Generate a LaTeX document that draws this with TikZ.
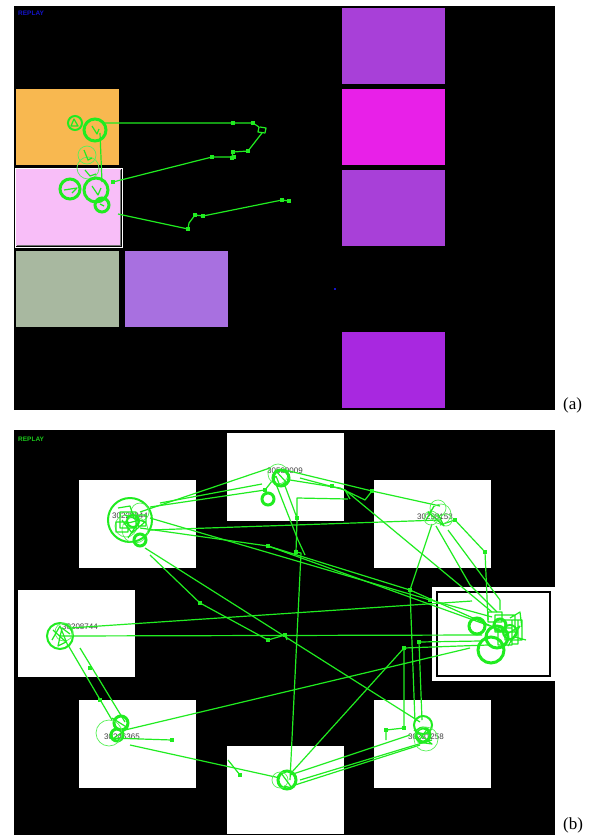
\documentclass[tikz,border=0pt]{standalone}
\usepackage{fontspec}
\setmainfont{Liberation Serif}
\newfontfamily\tagfont{Liberation Sans}
\definecolor{gz}{RGB}{32,236,32}
\definecolor{tileorange}{RGB}{248,184,80}
\definecolor{tilepink}{RGB}{248,190,248}
\definecolor{tilesage}{RGB}{168,184,160}
\definecolor{tilelilac}{RGB}{168,112,224}
\definecolor{tilepurple}{RGB}{168,64,216}
\definecolor{tilemagenta}{RGB}{232,32,232}
\definecolor{tileviolet}{RGB}{168,40,224}
\definecolor{replayblue}{RGB}{20,20,200}
\begin{document}
\begin{tikzpicture}[x=1pt,y=-1pt,
  trace/.style={draw=gz,line width=1.2pt,line join=round},
  ring/.style={draw=gz,line width=3pt},
  midring/.style={draw=gz,line width=2pt},
  faintring/.style={draw=gz!75,line width=0.7pt},
  pt/.style={fill=gz,minimum size=3.2pt,inner sep=0pt,outer sep=0pt,rectangle},
  idtag/.style={font=\tagfont\fontsize{8}{8}\selectfont,text=black!75,inner sep=0pt,anchor=west},
  panel/.style={fill=black},
  replay/.style={font=\tagfont\bfseries\fontsize{6.5}{6.5}\selectfont,anchor=west,inner sep=0pt},
  caption/.style={font=\fontsize{17}{17}\selectfont,inner sep=0pt,anchor=west}]
\path[use as bounding box,fill=white] (0,0) rectangle (597,838);

% ---------------- panel (a) ----------------
\fill[panel] (14,6) rectangle (555,410);
\node[replay,text=replayblue] (replayA) at (18,13) {REPLAY};
\fill[tilepurple]  (342,8)   rectangle (445,84);
\fill[tilemagenta] (342,89)  rectangle (445,165);
\fill[tilepurple]  (342,170) rectangle (445,246);
\fill[tileviolet]  (342,332) rectangle (445,408);
\fill[tileorange]  (16,89)   rectangle (119,165);
\fill[tilepink]    (16,169)  rectangle (121,246);
\draw[white,line width=1.5pt] (15.5,168.5) rectangle (122.5,247.5);
\draw[black!55,line width=1pt] (120,170) -- (120,245.5) -- (16.5,245.5);
\fill[tilesage]    (16,251)  rectangle (119,327);
\fill[tilelilac]   (125,251) rectangle (228,327);
\fill[replayblue] (334,288) rectangle (336,290);

% gaze paths in panel (a)
\draw[trace] (103,123) -- (233,123) -- (253,123) -- (259,127) -- (258,132) -- (265,133) -- (266,128) -- (260,127)
             (262,133) -- (248,151) -- (233,152) -- (232,157) -- (212,157) -- (113,182);
\draw[trace] (100,133) -- (102,182);
\draw[trace] (118,214) -- (188,229) -- (189,223) -- (195,215) -- (203,216) -- (282,200) -- (289,201);
\foreach \p in {(233,123),(253,123),(248,151),(233,152),(212,157),(113,182),(188,229),(195,215),(203,216),(282,200),(289,201),(232,158),(234,157)}
  \node[pt] at \p {};
\draw[midring] (75,123) circle (7);
\draw[ring] (95,130) circle (11);
\draw[faintring] (87,155) circle (9);
\draw[faintring] (88,168) circle (11);
\draw[ring] (70,189) circle (10);
\draw[ring] (96,190) circle (12);
\draw[ring] (102,205) circle (7);
\draw[trace] (71,126) -- (74,119) -- (78,126) -- cycle
             (92,126) -- (97,134) -- (99,129) (64,190) -- (77,188) -- (72,193)
             (92,186) -- (98,195) -- (101,188) (84,150) -- (88,160) -- (92,158)
             (85,170) -- (90,176) -- (96,174) (100,204) -- (104,206);

\node[caption] (capA) at (563,405) {(a)};

% ---------------- panel (b) ----------------
\fill[panel] (14,430) rectangle (555,835);
\node[replay,text=gz!85!black] (replayB) at (18,439) {REPLAY};

\fill[white] (227,433) rectangle (344,521);
\fill[white] (79,480)  rectangle (196,568);
\fill[white] (374,480) rectangle (491,568);
\fill[white] (18,590)  rectangle (135,677);
\fill[white] (432,587) rectangle (555,681);
\draw[black,line width=1.6pt] (437,592) rectangle (550,676);
\fill[white] (79,700)  rectangle (196,788);
\fill[white] (374,700) rectangle (491,788);
\fill[white] (227,746) rectangle (344,834);

% tile identifiers
\node[idtag] (idTC) at (267,471) {30580009};
\node[idtag] (idTL) at (112,516) {30228344};
\node[idtag] (idTR) at (417,517) {30298153};
\node[idtag] (idL)  at (62,627)  {30208744};
\node[idtag] (idBL) at (104,737) {30246365};
\node[idtag] (idBR) at (408,737) {30231258};

% gaze paths in panel (b)
\draw[trace] (140,512) -- (270,468);
\draw[trace] (150,507) -- (265,490) -- (276,476);
\draw[trace] (160,503) -- (262,484);
\draw[trace] (285,470) -- (372,491) -- (440,506);
\draw[trace] (290,480) -- (340,488) -- (365,500) -- (372,491);
\draw[trace] (285,486) -- (297,518) -- (297,498) -- (348,499);
\draw[trace] (297,520) -- (296,552) -- (301,553) -- (290,780);
\draw[trace] (276,484) -- (298,540) -- (305,555);
\draw[trace] (300,478) -- (345,490) -- (492,612);
\draw[trace] (150,518) -- (430,600) -- (492,617);
\draw[trace] (140,528) -- (268,546) -- (490,626);
\draw[trace] (268,546) -- (410,590) -- (500,630);
\draw[trace] (150,555) -- (200,603) -- (268,640) -- (285,635) -- (287,640);
\draw[trace] (145,548) -- (420,722);
\draw[trace] (150,530) -- (440,520);
\draw[trace] (60,636) -- (482,635);
\draw[trace] (70,628) -- (472,601);
\draw[trace] (68,645) -- (112,720);
\draw[trace] (80,648) -- (125,722);
\draw[trace] (125,730) -- (470,648);
\draw[trace] (130,745) -- (280,778);
\draw[trace] (110,738) -- (172,740);
\draw[trace] (290,775) -- (410,735);
\draw[trace] (295,785) -- (420,745);
\draw[trace] (300,780) -- (432,740);
\draw[trace] (292,772) -- (404,648) -- (488,645);
\draw[trace] (404,648) -- (404,728) -- (386,730) -- (386,740);
\draw[trace] (422,720) -- (419,642) -- (480,641);
\draw[trace] (432,524) -- (410,590) -- (415,722);
\draw[trace] (440,525) -- (455,520) -- (485,552) -- (488,620);
\draw[trace] (448,530) -- (500,600);
\draw[trace] (436,526) -- (470,585) -- (497,612);
\draw[trace] (240,775) -- (228,760);
\draw[trace] (350,499) -- (345,490);
\foreach \p in {(372,491),(297,518),(296,552),(200,603),(268,640),(285,635),(404,648),(404,728),(386,730),(419,642),(485,552),(455,520),(268,546),(430,600),(410,590),(265,490),(90,668),(100,700),(332,486),(172,740),(240,775)}
  \node[pt] at \p {};

% fixation clusters
\draw[midring] (130,520) circle (22);
\draw[faintring] (126,526) circle (11);
\draw[faintring] (140,512) circle (9);
\draw[faintring] (135,530) circle (13);
\draw[ring] (140,540) circle (6);
\draw[trace] (120,512) rectangle (136,528) (125,515) -- (145,522) -- (132,533) -- (122,520)
             (116,522) rectangle (128,532) (138,515) rectangle (146,526)
             (118,508) -- (130,506) -- (134,518) (124,524) -- (140,520) -- (128,538);
\draw[midring] (133,521) circle (6);
\draw[faintring] (278,474) circle (10);
\draw[ring] (281,478) circle (8);
\draw[ring] (268,499) circle (6);
\draw[trace] (275,470) -- (286,482) -- (280,486) -- (276,476);
\draw[faintring] (438,508) circle (8);
\draw[faintring] (431,518) circle (7);
\draw[faintring] (446,520) circle (6);
\draw[faintring] (441,514) circle (10);
\draw[trace] (428,512) -- (444,526) -- (438,514) (426,520) -- (434,506);
\draw[midring] (60,636) circle (13);
\draw[faintring] (64,632) circle (9);
\draw[trace] (53,630) -- (66,642) -- (58,646) -- (62,628) -- (70,634) (52,640) -- (60,626) -- (68,646);
\draw[ring] (477,626) circle (8);
\draw[ring] (497,637) circle (11);
\draw[ring] (491,650) circle (13);
\draw[ring] (500,625) circle (6);
\draw[midring] (510,632) circle (7);
\draw[trace] (488,612) rectangle (502,622) (495,615) rectangle (515,632) (505,620) rectangle (522,640)
             (498,628) rectangle (512,645) (510,618) -- (520,612) -- (522,628) (515,637) -- (526,640)
             (500,610) -- (500,600) (512,620) rectangle (518,644) (504,636) -- (520,626) -- (508,646);
\draw[ring] (121,723) circle (7);
\draw[ring] (117,735) circle (6);
\draw[faintring] (109,733) circle (13);
\draw[trace] (112,718) -- (128,728) -- (114,738);
\draw[midring] (423,725) circle (9);
\draw[ring] (423,735) circle (7);
\draw[faintring] (426,739) circle (12);
\draw[trace] (414,730) -- (432,744) -- (418,742) -- (428,728);
\draw[ring] (287,780) circle (9);
\draw[faintring] (280,780) circle (8);
\draw[trace] (281,773) -- (292,788) -- (284,786);

\node[caption] (capB) at (563,825) {(b)};
\end{tikzpicture}
\end{document}
